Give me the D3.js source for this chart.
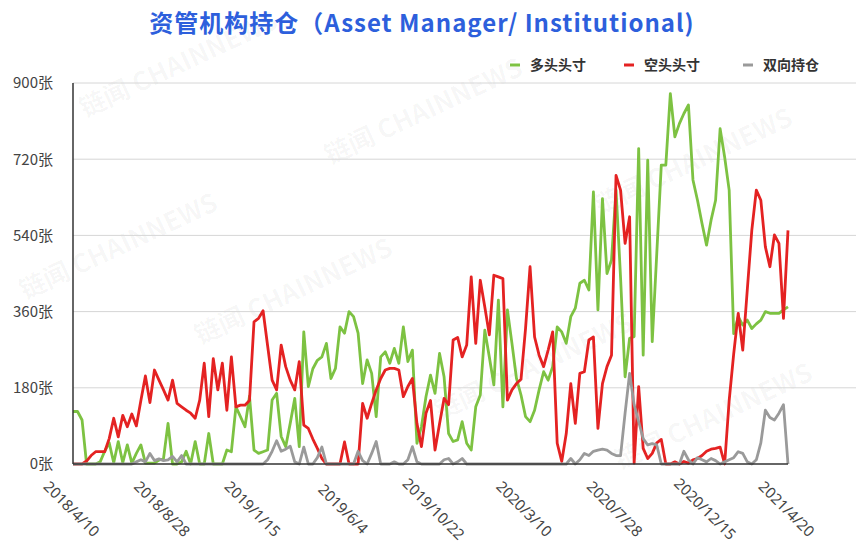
<!DOCTYPE html>
<html>
<head>
<meta charset="utf-8">
<script src="https://cdn.jsdelivr.net/npm/d3@7"></script>
<style>
  html, body { margin: 0; padding: 0; background: #fff; }
  svg { display: block; }
</style>
</head>
<body>
<svg id="chart" width="856" height="552"></svg>
<script>
// ---- data (weekly, 2018/4/10 .. 2021/4/20) ----
const tickLabels = ["2018/4/10","2018/8/28","2019/1/15","2019/6/4","2019/10/22","2020/3/10","2020/7/28","2020/12/15","2021/4/20"];
const tickIndex = [0,20,40,60,80,100,120,140,158];
const yTicks = [0,180,360,540,720,900];
const seriesNames = ["多头头寸","空头头寸","双向持仓"];

const longPos = [
  124,124,104,0,0,0,5,30,50,3,
  53,3,45,2,25,45,2,2,2,9,
  13,96,0,0,5,30,0,53,0,0,
  72,0,0,0,33,29,135,112,88,160,
  33,25,29,33,151,167,65,41,96,155,
  41,312,183,225,245,253,285,202,226,324,
  309,360,348,309,190,246,214,112,253,265,
  238,273,238,324,242,269,49,88,159,210,
  167,261,206,72,53,57,100,49,33,135,
  163,316,253,187,387,135,364,285,202,163,
  112,100,127,175,218,198,230,324,312,285,
  348,368,427,434,411,643,364,627,450,482,
  647,440,206,297,301,745,257,718,289,497,
  706,706,875,773,804,828,848,671,623,568,
  517,576,623,792,725,647,308,348,328,340,
  320,331,340,360,356,356,356,364,371
];
const shortPos = [
  0,0,0,7,20,29,29,29,60,108,
  64,115,88,118,90,150,208,145,222,198,
  175,151,198,143,135,127,120,108,151,238,
  112,249,175,238,127,253,135,139,139,150,
  336,344,362,280,198,175,281,230,198,175,
  242,92,84,59,37,13,0,0,0,0,
  52,0,0,0,143,108,143,175,202,222,
  226,226,222,159,183,202,96,41,120,150,
  33,95,155,140,293,299,253,281,442,285,
  434,371,305,446,442,438,151,175,190,200,
  320,466,300,257,230,269,312,49,6,72,
  190,96,214,218,293,300,84,190,230,257,
  682,647,521,584,2,183,37,13,25,50,
  58,0,0,5,0,6,2,10,13,20,
  30,35,37,40,0,150,260,356,269,411,
  552,647,623,513,466,541,521,344,552
];
const bothPos = [
  0,0,0,0,0,0,0,0,0,0,
  0,0,0,0,5,10,5,25,8,12,
  8,10,18,5,20,0,0,0,0,0,
  0,0,0,0,0,0,0,0,0,0,
  0,0,0,10,30,55,30,35,42,5,
  0,40,0,0,15,40,0,0,0,0,
  0,0,0,30,8,0,25,53,0,0,
  0,5,0,0,10,41,5,0,0,0,
  0,0,10,13,0,5,13,0,0,0,
  0,0,0,0,0,0,0,0,0,0,
  0,0,0,0,0,0,0,0,0,0,
  13,0,10,25,20,30,33,35,33,25,
  20,20,120,214,140,100,60,45,48,45,
  0,0,0,0,0,30,10,0,15,10,
  5,13,8,0,5,10,15,29,25,5,
  0,10,50,127,110,104,120,140,0
];
const colors = ["#7dc242","#e42222","#9a9a9a"];

// ---- drawing ----
(function () {
const svg = d3.select("#chart");
const W = 856;
const pLeft = 73, pRight = 788, pTop = 83, pBottom = 464;

const x = d3.scaleLinear().domain([0, longPos.length - 1]).range([pLeft, pRight]);
const y = d3.scaleLinear().domain([0, 900]).range([pBottom, pTop]);

// watermarks (kept fully inside the canvas)
const wm = svg.append("g").attr("fill", "#000").attr("fill-opacity", 0.04)
  .attr("font-family", "Noto Sans CJK SC, sans-serif").attr("font-weight", "bold").attr("font-size", 26);
[[85,118],[25,300],[200,345],[330,165],[440,420],[600,215],[620,470]].forEach(p => {
  wm.append("text").attr("transform", `translate(${p[0]},${p[1]}) rotate(-25)`).text("链闻 CHAINNEWS");
});

// title
svg.append("text")
  .attr("x", 422).attr("y", 32)
  .attr("text-anchor", "middle")
  .attr("font-family", "Noto Sans CJK SC, sans-serif")
  .attr("font-weight", "bold")
  .attr("font-size", 24)
  .attr("letter-spacing", 1)
  .attr("fill", "#2d5fdc")
  .text("资管机构持仓（Asset Manager/ Institutional)");

// gridlines
svg.append("g").selectAll("line").data(yTicks.filter(d => d > 0)).join("line")
  .attr("x1", pLeft).attr("x2", W)
  .attr("y1", d => y(d)).attr("y2", d => y(d))
  .attr("stroke", "#d6d6d6").attr("stroke-width", 1);

// y axis labels
const yAxis = d3.axisLeft(y).tickValues(yTicks).tickSize(0).tickPadding(0).tickFormat(d => d + "张");
const gy = svg.append("g").attr("transform", `translate(53,0)`).call(yAxis);
gy.select(".domain").remove();
gy.selectAll("text")
  .attr("font-family", "Noto Sans CJK SC, sans-serif")
  .attr("font-size", 15)
  .attr("fill", "#444");

// lines
const line = d3.line().x((d, i) => x(i)).y(d => y(d));
[longPos, shortPos, bothPos].forEach((s, k) => {
  svg.append("path").datum(s)
    .attr("fill", "none")
    .attr("stroke", colors[k])
    .attr("stroke-width", 2.8)
    .attr("stroke-linejoin", "round")
    .attr("d", line);
});

// axes lines
svg.append("line").attr("x1", pLeft).attr("x2", pLeft).attr("y1", pTop).attr("y2", pBottom)
  .attr("stroke", "#333").attr("stroke-width", 1.5);
svg.append("line").attr("x1", pLeft).attr("x2", pRight).attr("y1", pBottom).attr("y2", pBottom)
  .attr("stroke", "#333").attr("stroke-width", 1.5);

// x axis labels
const xAxis = d3.axisBottom(x).tickValues(tickIndex).tickSize(0)
  .tickFormat((d, i) => tickLabels[i]);
const gx = svg.append("g").attr("transform", `translate(0,${pBottom})`).call(xAxis);
gx.select(".domain").remove();
gx.selectAll("text")
  .attr("y", 0).attr("dy", "0.35em")
  .attr("text-anchor", "middle")
  .attr("transform", "translate(-2,45) rotate(45)")
  .attr("font-family", "Noto Sans, sans-serif")
  .attr("font-size", 15)
  .attr("fill", "#444");

// legend
const legendX = [510, 624, 743];
const lg = svg.append("g");
seriesNames.forEach((n, k) => {
  lg.append("line").attr("x1", legendX[k]).attr("x2", legendX[k] + 10)
    .attr("y1", 65).attr("y2", 65).attr("stroke", colors[k]).attr("stroke-width", 3);
  lg.append("text").attr("x", legendX[k] + 20).attr("y", 70)
    .attr("font-family", "Noto Sans CJK SC, sans-serif")
    .attr("font-weight", "bold")
    .attr("font-size", 14)
    .attr("fill", "#333")
    .text(n);
});
})();
</script>
</body>
</html>
